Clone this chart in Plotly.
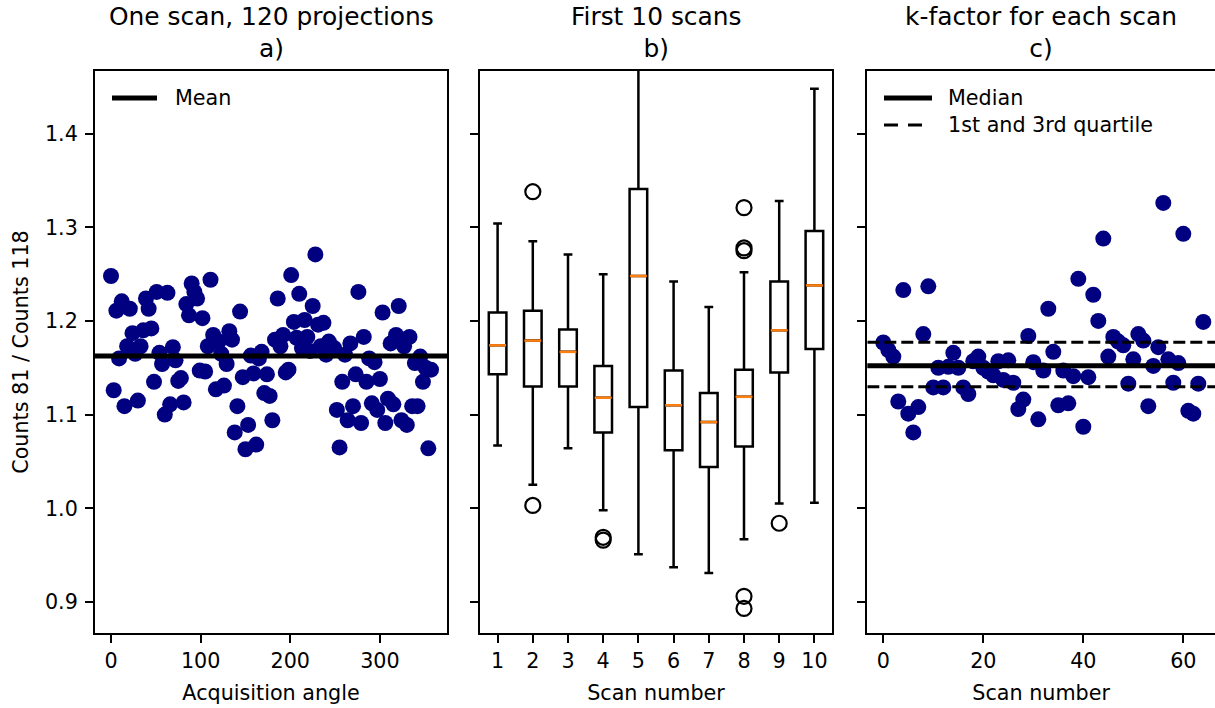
import plotly.graph_objects as go

# ---------------- data ----------------
# Panel a: one scan, 120 projections (angle step 3 deg)
angles = list(range(0, 360, 3))
ratio_one_scan = [
    1.248, 1.126, 1.211, 1.160, 1.221, 1.109, 1.173, 1.213, 1.187, 1.165,
    1.115, 1.173, 1.190, 1.224, 1.213, 1.192, 1.135, 1.231, 1.166, 1.154,
    1.100, 1.230, 1.111, 1.172, 1.158, 1.136, 1.139, 1.113, 1.218, 1.206,
    1.240, 1.231, 1.224, 1.147, 1.203, 1.146, 1.173, 1.244, 1.185, 1.127,
    1.178, 1.165, 1.131, 1.154, 1.189, 1.180, 1.081, 1.109, 1.210, 1.140,
    1.063, 1.089, 1.163, 1.144, 1.068, 1.160, 1.167, 1.123, 1.143, 1.120,
    1.094, 1.180, 1.224, 1.173, 1.185, 1.145, 1.148, 1.249, 1.199, 1.182,
    1.229, 1.171, 1.201, 1.183, 1.168, 1.216, 1.271, 1.196, 1.173, 1.198,
    1.164, 1.178, 1.171, 1.171, 1.105, 1.065, 1.135, 1.164, 1.094, 1.176,
    1.109, 1.143, 1.231, 1.091, 1.183, 1.135, 1.160, 1.112, 1.156, 1.105,
    1.138, 1.209, 1.091, 1.117, 1.176, 1.111, 1.185, 1.216, 1.094, 1.173,
    1.089, 1.183, 1.109, 1.155, 1.109, 1.162, 1.135, 1.150, 1.064, 1.148,
]
mean_one_scan = 1.1626

# Panel b: first 10 scans, box statistics
scan_ids = [1, 2, 3, 4, 5, 6, 7, 8, 9, 10]
box_low = [1.067, 1.025, 1.064, 0.998, 0.951, 0.937, 0.931, 0.967, 1.005, 1.006]
box_q1 = [1.143, 1.130, 1.130, 1.081, 1.108, 1.062, 1.044, 1.066, 1.145, 1.170]
box_median = [1.174, 1.179, 1.167, 1.118, 1.248, 1.110, 1.092, 1.119, 1.190, 1.238]
box_q3 = [1.209, 1.211, 1.191, 1.152, 1.341, 1.147, 1.123, 1.148, 1.242, 1.296]
box_high = [1.304, 1.285, 1.271, 1.250, 1.480, 1.242, 1.215, 1.252, 1.328, 1.448]
outlier_scan = [2, 2, 4, 4, 8, 8, 8, 8, 8, 9]
outlier_value = [1.338, 1.003, 0.969, 0.966, 1.321, 1.278, 1.275, 0.906, 0.893, 0.984]

# Panel c: k-factor for each scan
scan_numbers = list(range(0, 65))
k_factor = [
    1.177, 1.169, 1.162, 1.114, 1.233, 1.101, 1.081, 1.108, 1.186, 1.237,
    1.129, 1.150, 1.129, 1.151, 1.166, 1.150, 1.129, 1.122, 1.157, 1.162,
    1.150, 1.146, 1.142, 1.157, 1.137, 1.158, 1.134, 1.106, 1.116, 1.184,
    1.156, 1.095, 1.147, 1.213, 1.167, 1.110, 1.147, 1.112, 1.141, 1.245,
    1.087, 1.140, 1.228, 1.200, 1.288, 1.162, 1.183, 1.178, 1.174, 1.133,
    1.159, 1.186, 1.179, 1.109, 1.152, 1.172, 1.326, 1.159, 1.134, 1.155,
    1.293, 1.104, 1.101, 1.133, 1.199,
]
k_median = 1.1523
k_q1 = 1.1298
k_q3 = 1.1772

titles = ["One scan, 120 projections", "First 10 scans", "k-factor for each scan"]
letters = ["a)", "b)", "c)"]
xlabels = ["Acquisition angle", "Scan number", "Scan number"]
ylabel = "Counts 81 / Counts 118"
ytick_vals = [0.9, 1.0, 1.1, 1.2, 1.3, 1.4]
ytick_text = ["0.9", "1.0", "1.1", "1.2", "1.3", "1.4"]

# ---------------- figure ----------------
W, H = 1215, 708
FONT = "DejaVu Sans"
FS = 20.7
TFS = 24.9
NAVY = "#000080"
ORANGE = "#ff7f0e"


def fx(px):
    return px / W


def fy(py):
    return 1 - py / H


fig = go.Figure()

# panel a
fig.add_trace(go.Scatter(x=angles, y=ratio_one_scan, mode="markers",
                         marker=dict(color=NAVY, size=16, line=dict(width=0)),
                         showlegend=False, xaxis="x", yaxis="y"))
fig.add_trace(go.Scatter(x=[-30, 400], y=[mean_one_scan, mean_one_scan], mode="lines",
                         line=dict(color="black", width=5), name="Mean",
                         showlegend=False, xaxis="x", yaxis="y"))

# panel b
fig.add_trace(go.Box(x=scan_ids, q1=box_q1, median=box_median, q3=box_q3,
                     lowerfence=box_low, upperfence=box_high,
                     width=0.5, whiskerwidth=0.5, boxpoints=False,
                     line=dict(color="black", width=2.5), fillcolor="white",
                     showlegend=False, xaxis="x2", yaxis="y2"))
med_x, med_y = [], []
for s, m in zip(scan_ids, box_median):
    med_x += [s - 0.24, s + 0.24, None]
    med_y += [m, m, None]
fig.add_trace(go.Scatter(x=med_x, y=med_y, mode="lines",
                         line=dict(color=ORANGE, width=2.5),
                         showlegend=False, xaxis="x2", yaxis="y2"))
fig.add_trace(go.Scatter(x=outlier_scan, y=outlier_value, mode="markers",
                         marker=dict(symbol="circle-open", size=15,
                                     color="black", line=dict(width=2.2)),
                         showlegend=False, xaxis="x2", yaxis="y2"))

# panel c
fig.add_trace(go.Scatter(x=scan_numbers, y=k_factor, mode="markers",
                         marker=dict(color=NAVY, size=16, line=dict(width=0)),
                         showlegend=False, xaxis="x3", yaxis="y3"))
fig.add_trace(go.Scatter(x=[-10, 80], y=[k_median, k_median], mode="lines",
                         line=dict(color="black", width=5), name="Median",
                         showlegend=False, xaxis="x3", yaxis="y3"))
fig.add_trace(go.Scatter(x=[-10, 80, None, -10, 80], y=[k_q1, k_q1, None, k_q3, k_q3],
                         mode="lines", line=dict(color="black", width=3, dash="12px,5px"),
                         name="1st and 3rd quartile", showlegend=False,
                         xaxis="x3", yaxis="y3"))

x_domains = [[fx(95), fx(447)], [fx(480), fx(832)], [fx(867.3), 1.0]]
x_ranges = [[-17.85, 374.85], [0.5, 10.5], [-3.2, 66.34]]
y_domain = [fy(633), fy(71)]
y_range = [0.8668, 1.4669]

axis_common = dict(showline=True, linecolor="black", linewidth=2, mirror=True,
                   ticks="outside", ticklen=8, tickwidth=2, tickcolor="black",
                   showgrid=False, zeroline=False,
                   tickfont=dict(family=FONT, size=FS, color="black"))

layout = dict(width=W, height=H, margin=dict(l=0, r=0, t=0, b=0),
              paper_bgcolor="white", plot_bgcolor="white", showlegend=False,
              font=dict(family=FONT, size=FS, color="black"))

xticks = [dict(tickvals=[0, 100, 200, 300]),
          dict(tickvals=scan_ids),
          dict(tickvals=[0, 20, 40, 60])]

for i in range(3):
    sx = "" if i == 0 else str(i + 1)
    layout["xaxis" + sx] = dict(axis_common, domain=x_domains[i], range=x_ranges[i],
                                anchor="y" + sx, title=dict(text=xlabels[i], standoff=14,
                                font=dict(family=FONT, size=FS, color="black")),
                                **xticks[i])
    layout["yaxis" + sx] = dict(axis_common, domain=y_domain, range=y_range,
                                anchor="x" + sx, tickvals=ytick_vals, ticktext=ytick_text,
                                showticklabels=(i == 0), ticklabelstandoff=3)
# panel c continues past the right edge of the picture: no right frame line
layout["yaxis3"]["mirror"] = False
layout["yaxis"]["title"] = dict(text=ylabel, standoff=11,
                                font=dict(family=FONT, size=FS, color="black"))

annotations = []
for i in range(3):
    sx = "" if i == 0 else str(i + 1)
    annotations.append(dict(text=titles[i] + "<br>" + letters[i],
                            xref="x" + sx + " domain", yref="paper",
                            x=0.5, y=fy(32), xanchor="center", yanchor="middle",
                            showarrow=False, font=dict(family=FONT, size=TFS, color="black")))

# legends (drawn as line samples + text labels)
legend_items = [
    ("Mean", 112, 157, 98, 5, "solid"),
    ("Median", 884, 932, 98, 5, "solid"),
    ("1st and 3rd quartile", 884, 922, 125, 3, "14px,10px"),
]
shapes = []
for label, x0, x1, yy, lw, dash in legend_items:
    shapes.append(dict(type="line", xref="paper", yref="paper",
                       x0=fx(x0), x1=fx(x1), y0=fy(yy), y1=fy(yy),
                       line=dict(color="black", width=lw, dash=dash)))
    annotations.append(dict(text=label, xref="paper", yref="paper",
                            x=fx(x0 + 62) if label != "Mean" else fx(173),
                            y=fy(yy), xanchor="left", yanchor="middle",
                            showarrow=False, font=dict(family=FONT, size=FS, color="black")))

layout["annotations"] = annotations
layout["shapes"] = shapes

fig.update_layout(layout)
fig.write_html("out.html", config={"displayModeBar": False},
               post_script="document.body.style.margin='0';")
